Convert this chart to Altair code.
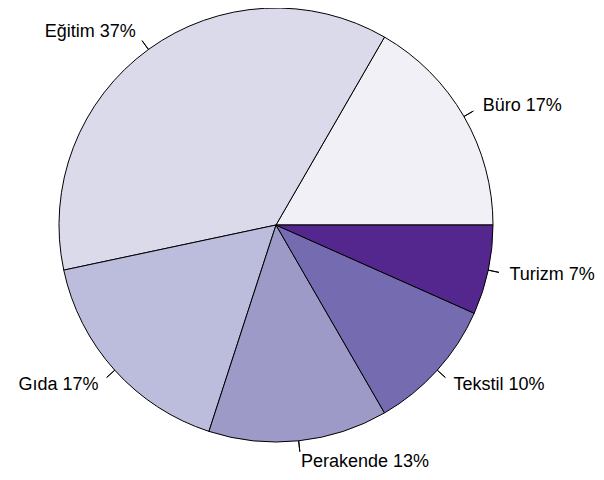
import math
import altair as alt
import pandas as pd

categories = ["Büro", "Eğitim", "Gıda", "Perakende", "Tekstil", "Turizm"]
counts = [5, 11, 5, 4, 3, 2]
colors = ["#F2F0F7", "#DADAEB", "#BCBDDC", "#9E9AC8", "#756BB1", "#54278F"]

df = pd.DataFrame({"cat": categories, "value": counts, "order": list(range(len(categories)))})

CX, CY = 268, 217
R = 217
FONT = "Liberation Sans"
FS = 18

theta_scale = alt.Scale(domain=[0, 1], range=[math.pi / 2, math.pi / 2 - 2 * math.pi])

base = alt.Chart(df).transform_window(
    cum="sum(value)", sort=[alt.SortField("order")], frame=[None, 0]
).transform_joinaggregate(
    total="sum(value)"
).transform_calculate(
    start="(datum.cum - datum.value) / datum.total",
    end="datum.cum / datum.total",
    mid="(datum.cum - datum.value / 2) / datum.total",
    label="datum.cat + ' ' + round(100 * datum.value / datum.total) + '%'",
    side="cos(2 * PI * (datum.cum - datum.value / 2) / datum.total)",
)

pie = base.mark_arc(radius=R, stroke="black", strokeWidth=1).encode(
    x=alt.value(CX),
    y=alt.value(CY),
    theta=alt.Theta("start:Q", scale=theta_scale, stack=False),
    theta2="end:Q",
    color=alt.Color("cat:N", scale=alt.Scale(domain=categories, range=colors), legend=None),
)

leaders = base.mark_arc(radius=R, radius2=R * 1.05, stroke="black", strokeWidth=1, fill="black").encode(
    x=alt.value(CX),
    y=alt.value(CY),
    theta=alt.Theta("mid:Q", scale=theta_scale, stack=False),
    theta2="mid:Q",
)

labels_right = base.transform_filter("datum.side >= 0").mark_text(
    radius=R * 1.1, align="left", baseline="middle", fontSize=FS, font=FONT, color="black"
).encode(
    x=alt.value(CX),
    y=alt.value(CY),
    theta=alt.Theta("mid:Q", scale=theta_scale, stack=False),
    text="label:N",
)

labels_left = base.transform_filter("datum.side < 0").mark_text(
    radius=R * 1.1, align="right", baseline="middle", fontSize=FS, font=FONT, color="black"
).encode(
    x=alt.value(CX),
    y=alt.value(CY),
    theta=alt.Theta("mid:Q", scale=theta_scale, stack=False),
    text="label:N",
)

chart = alt.layer(pie, leaders, labels_right, labels_left).properties(
    width=588, height=464, autosize="none", padding=0
).configure_view(stroke=None)

chart.save("out.html", embed_options={"renderer": "svg", "actions": False})
